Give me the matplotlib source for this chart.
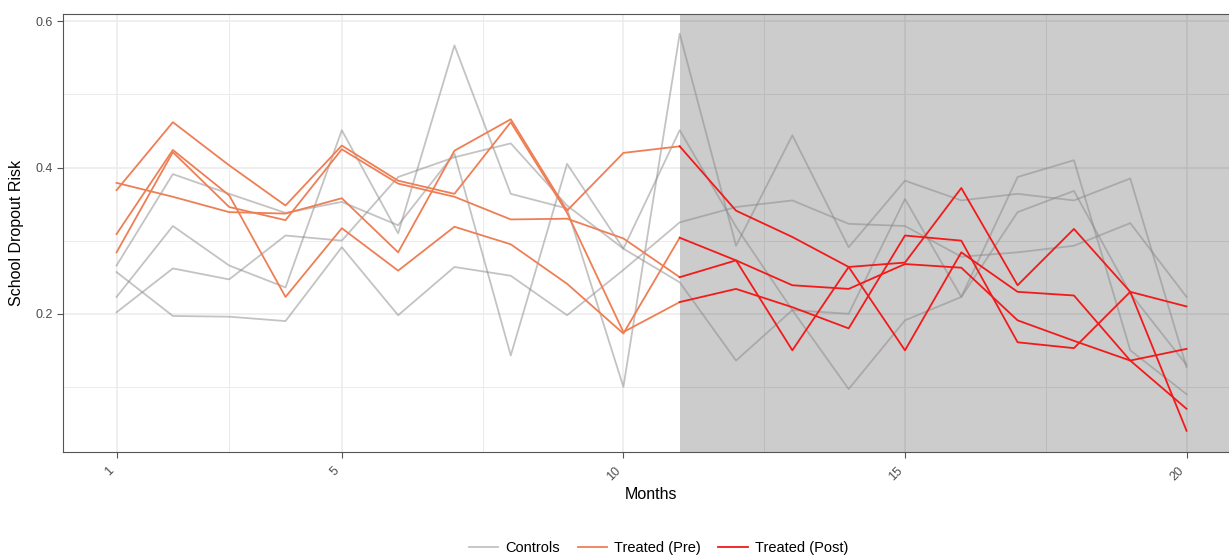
import matplotlib
matplotlib.use('Agg')
import matplotlib.pyplot as plt
from matplotlib.lines import Line2D

plt.rcParams['font.family'] = ['Liberation Sans', 'DejaVu Sans']

# ── data ──────────────────────────────────────────────────
months      = list(range(1, 21))
months_pre  = list(range(1, 12))     # 1..11
months_post = list(range(11, 21))    # 11..20
treat_start = 11

# control units, months 1-20
ctrl_1 = [0.266, 0.391, 0.364, 0.338, 0.353, 0.321, 0.419, 0.143, 0.405, 0.289,
          0.451, 0.319, 0.205, 0.097, 0.191, 0.223, 0.387, 0.410, 0.150, 0.090]
ctrl_2 = [0.223, 0.320, 0.266, 0.236, 0.451, 0.310, 0.567, 0.364, 0.344, 0.100,
          0.583, 0.293, 0.444, 0.291, 0.382, 0.355, 0.364, 0.355, 0.385, 0.127]
ctrl_3 = [0.202, 0.262, 0.247, 0.307, 0.300, 0.387, 0.414, 0.433, 0.348, 0.289,
          0.243, 0.136, 0.205, 0.200, 0.357, 0.223, 0.339, 0.368, 0.228, 0.130]
ctrl_4 = [0.257, 0.197, 0.196, 0.190, 0.291, 0.198, 0.264, 0.252, 0.198, 0.260,
          0.325, 0.346, 0.355, 0.323, 0.320, 0.278, 0.284, 0.293, 0.324, 0.223]

# treated units, pre period (months 1-11)
pre_a = [0.379, 0.360, 0.339, 0.337, 0.358, 0.284, 0.423, 0.466, 0.341, 0.420, 0.429]
pre_b = [0.369, 0.462, 0.403, 0.348, 0.430, 0.382, 0.364, 0.462, 0.338, 0.175, 0.216]
pre_c = [0.309, 0.424, 0.362, 0.223, 0.317, 0.259, 0.319, 0.295, 0.241, 0.173, 0.304]
pre_d = [0.284, 0.421, 0.346, 0.328, 0.425, 0.378, 0.360, 0.329, 0.330, 0.303, 0.250]

# treated units, post period (months 11-20)
post_a = [0.429, 0.341, 0.305, 0.264, 0.150, 0.284, 0.230, 0.225, 0.136, 0.070]
post_b = [0.216, 0.234, 0.209, 0.180, 0.307, 0.300, 0.161, 0.153, 0.230, 0.040]
post_c = [0.304, 0.273, 0.150, 0.264, 0.270, 0.372, 0.239, 0.316, 0.230, 0.210]
post_d = [0.250, 0.273, 0.239, 0.234, 0.268, 0.263, 0.191, 0.163, 0.136, 0.152]

x_breaks = [1, 5, 10, 15, 20]
y_breaks = [0.2, 0.4, 0.6]

legend_labels = ["Controls", "Treated (Pre)", "Treated (Post)"]

# ── styles ────────────────────────────────────────────────
C_CTRL = '#888888'
C_PRE  = '#EE7F55'
C_POST = '#F21A1A'

fig = plt.figure(figsize=(12.29, 5.56), dpi=100)
ax = fig.add_axes([0.0513, 0.1871, 0.9577, 0.7878])

# grid (theme_bw look)
ax.set_axisbelow(True)
ax.set_xticks(x_breaks)
ax.set_xticks([3, 7.5, 12.5, 17.5], minor=True)
ax.set_yticks(y_breaks)
ax.set_yticks([0.1, 0.3, 0.5], minor=True)
ax.grid(which='major', color='#ebebeb', lw=1.1)
ax.grid(which='minor', color='#ebebeb', lw=0.7)
ax.tick_params(axis='both', which='minor', length=0)

# treatment period shading
ax.axvspan(treat_start, 22, color='black', alpha=0.2, lw=0, zorder=1.5)

for ys in (ctrl_1, ctrl_2, ctrl_3, ctrl_4):
    ax.plot(months, ys, color=C_CTRL, alpha=0.5, lw=1.3, zorder=2)
for ys in (pre_a, pre_b, pre_c, pre_d):
    ax.plot(months_pre, ys, color=C_PRE, lw=1.3, zorder=3)
for ys in (post_a, post_b, post_c, post_d):
    ax.plot(months_post, ys, color=C_POST, lw=1.3, zorder=4)

ax.set_xlim(0.05, 20.95)
ax.set_ylim(0.011, 0.610)

for s in ax.spines.values():
    s.set_color('#555555')
    s.set_linewidth(0.8)

ax.tick_params(axis='both', which='major', length=4, width=0.8,
               color='#555555', labelcolor='#4d4d4d', labelsize=9)
ax.tick_params(axis='x', pad=5)
for lab in ax.get_xticklabels():
    lab.set_rotation(45)
    lab.set_ha('right')
    lab.set_va('top')
ax.set_yticklabels([f"{v:.1f}" for v in y_breaks])

ax.set_xlabel("Months", fontsize=11.5)
ax.xaxis.set_label_coords(0.4996, -0.08)
ax.set_ylabel("School Dropout Risk", fontsize=11.5, labelpad=8)

handles = [Line2D([], [], color=C_CTRL, alpha=0.5, lw=1.3),
           Line2D([], [], color=C_PRE, lw=1.3),
           Line2D([], [], color=C_POST, lw=1.3)]
fig.legend(handles, legend_labels, loc='center', bbox_to_anchor=(0.536, 0.015),
           ncol=3, frameon=False, fontsize=10.5, handlelength=2.0,
           columnspacing=1.2, handletextpad=0.5)

fig.savefig("out.png", dpi=100)
